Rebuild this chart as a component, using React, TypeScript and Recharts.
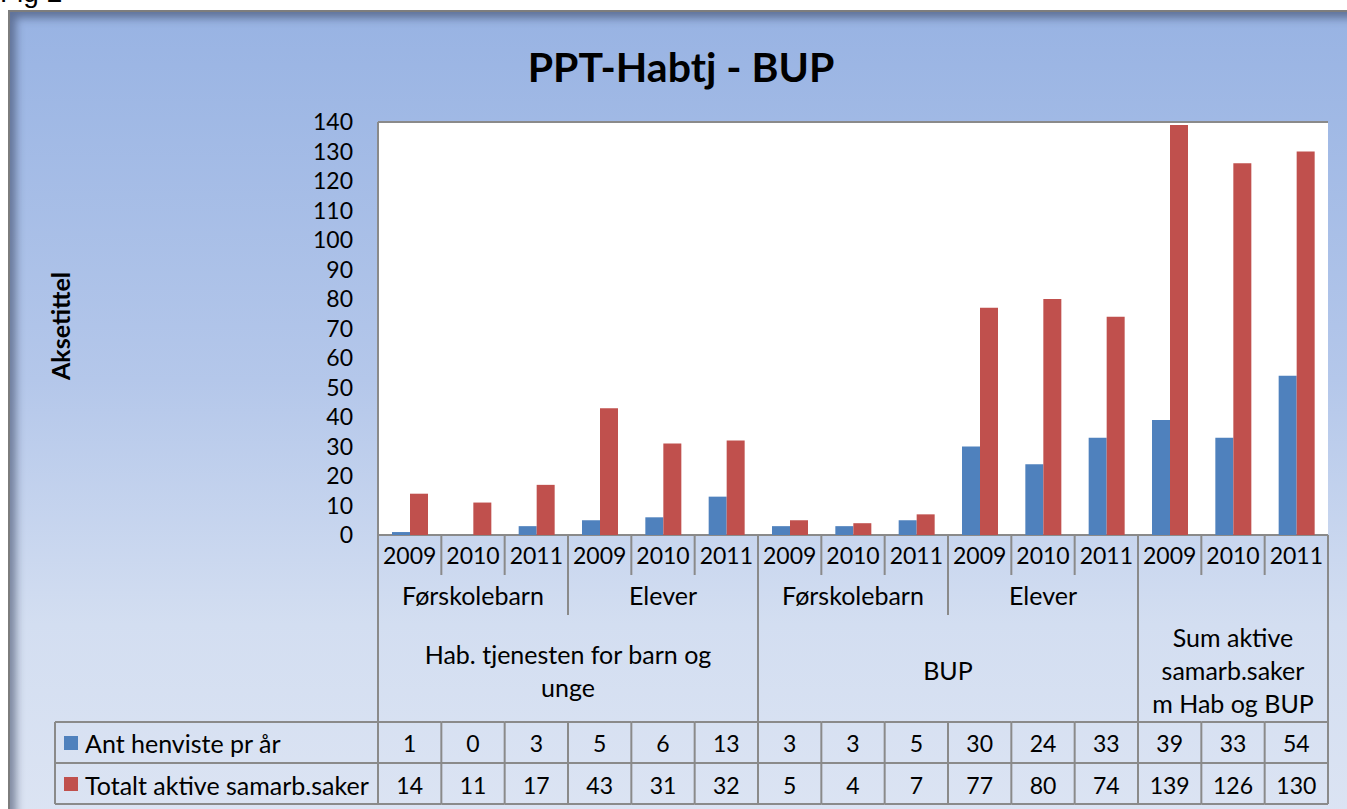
import React from "react";
import { BarChart, Bar, XAxis, YAxis, CartesianGrid } from "recharts";

const years = ["2009", "2010", "2011", "2009", "2010", "2011", "2009", "2010", "2011", "2009", "2010", "2011", "2009", "2010", "2011"];
const antHenviste = [1, 0, 3, 5, 6, 13, 3, 3, 5, 30, 24, 33, 39, 33, 54];
const totaltAktive = [14, 11, 17, 43, 31, 32, 5, 4, 7, 77, 80, 74, 139, 126, 130];
const midGroups = [
  { start: 0, span: 3, label: "Førskolebarn" },
  { start: 3, span: 3, label: "Elever" },
  { start: 6, span: 3, label: "Førskolebarn" },
  { start: 9, span: 3, label: "Elever" },
  { start: 12, span: 3, label: "" },
];
const topGroups = [
  { start: 0, span: 6, lines: ["Hab. tjenesten for barn og", "unge"] },
  { start: 6, span: 6, lines: ["BUP"] },
  { start: 12, span: 3, lines: ["Sum aktive", "samarb.saker", "m Hab og BUP"] },
];
const seriesNames = ["Ant henviste pr år", "Totalt aktive samarb.saker"];
const yTicks = [0, 10, 20, 30, 40, 50, 60, 70, 80, 90, 100, 110, 120, 130, 140];

const data = years.map((y, i) => ({ key: `c${i}`, year: y, ant: antHenviste[i], tot: totaltAktive[i] }));

const BLUE = "#4F81BD";
const RED = "#C0504D";
const LINE = "#8a8a8a";
const FONT = "Lato, 'Open Sans', sans-serif";
const LEGEND_LEFT = 55;

const TableTick = (props: any) => {
  const { x, y, payload } = props;
  const i: number = payload.index ?? props.index;
  const colW = payload.offset ? payload.offset * 2 : 950 / 15;
  const left = x - colW / 2;
  const right = x + colW / 2;
  const els: React.ReactNode[] = [];
  const isMid = midGroups.some((g) => g.start === i);
  const isTop = topGroups.some((g) => g.start === i);
  const ln = (k: string, x1: number, y1: number, x2: number, y2: number) => (
    <line key={k} x1={x1} y1={y1} x2={x2} y2={y2} stroke={LINE} strokeWidth={2} />
  );
  let bottom = y + 40;
  if (isMid) bottom = y + 80;
  if (isTop) bottom = y + 269;
  els.push(ln("vl", left, y, left, bottom));
  if (!isTop) els.push(ln("vld", left, y + 187, left, y + 269));
  if (i === years.length - 1) els.push(ln("vr", right, y, right, y + 269));
  [187, 228, 269].forEach((d) => els.push(ln("h" + d, left, y + d, right, y + d)));
  els.push(
    <text key="yr" x={x} y={y + 20} textAnchor="middle" dominantBaseline="central" fontSize={23} fill="#000" fontFamily={FONT}>
      {years[i]}
    </text>
  );
  els.push(
    <text key="v1" x={x} y={y + 208} textAnchor="middle" dominantBaseline="central" fontSize={23} fill="#000" fontFamily={FONT}>
      {antHenviste[i]}
    </text>
  );
  els.push(
    <text key="v2" x={x} y={y + 250} textAnchor="middle" dominantBaseline="central" fontSize={23} fill="#000" fontFamily={FONT}>
      {totaltAktive[i]}
    </text>
  );
  const mg = midGroups.find((g) => g.start === i);
  if (mg && mg.label) {
    els.push(
      <text key="mg" x={left + (mg.span * colW) / 2} y={y + 60} textAnchor="middle" dominantBaseline="central" fontSize={25} fill="#000" fontFamily={FONT}>
        {mg.label}
      </text>
    );
  }
  const tg = topGroups.find((g) => g.start === i);
  if (tg) {
    const n = tg.lines.length;
    tg.lines.forEach((t, k) => {
      els.push(
        <text key={"tg" + k} x={left + (tg.span * colW) / 2} y={y + 135 + (k - (n - 1) / 2) * 33} textAnchor="middle" dominantBaseline="central" fontSize={25} fill="#000" fontFamily={FONT}>
          {t}
        </text>
      );
    });
  }
  if (i === 0) {
    [187, 228, 269].forEach((d) => els.push(ln("lh" + d, LEGEND_LEFT, y + d, left, y + d)));
    els.push(ln("lv", LEGEND_LEFT, y + 187, LEGEND_LEFT, y + 269));
    [BLUE, RED].forEach((c, k) => {
      els.push(<rect key={"lk" + k} x={LEGEND_LEFT + 9} y={y + 201 + k * 41} width={14} height={14} fill={c} />);
      els.push(
        <text key={"lt" + k} x={LEGEND_LEFT + 30} y={y + 208 + k * 42} dominantBaseline="central" fontSize={25} fill="#000" fontFamily={FONT}>
          {seriesNames[k]}
        </text>
      );
    });
  }
  return <g>{els}</g>;
};

export default function App() {
  return (
    <div style={{ position: "absolute", left: 0, top: 0, width: 1347, height: 809, overflow: "hidden", background: "#fff" }}>
      <div style={{ position: "absolute", left: 0, top: -21, fontFamily: "Arial, 'Liberation Sans', sans-serif", fontSize: 28, lineHeight: "28px", color: "#000" }}>
        Fig 2
      </div>
      <div
        style={{
          position: "absolute",
          left: 8,
          top: 10,
          width: 1360,
          height: 820,
          border: "2px solid #7d7d7d",
          boxSizing: "border-box",
          background: "linear-gradient(to bottom, #98B3E3 0%, #B4C7EA 45%, #D3DEF1 75%, #DCE4F3 100%)",
          boxShadow: "inset 6px 6px 8px rgba(50,60,90,0.55)",
        }}
      />
      <div style={{ position: "absolute", left: 0, top: 0 }}>
        <BarChart
          width={1347}
          height={809}
          data={data}
          margin={{ top: 122, right: 19, bottom: 4, left: 318 }}
          barCategoryGap={14}
          barGap={0}
        >
          <CartesianGrid horizontal={true} vertical={false} stroke={LINE} strokeWidth={2} fill="#ffffff" fillOpacity={1} />
          <XAxis dataKey="key" type="category" height={270} tickSize={0} tickMargin={0} axisLine={false} tickLine={false} tick={<TableTick />} interval={0} />
          <YAxis
            yAxisId="l"
            width={60}
            domain={[0, 140]}
            ticks={yTicks}
            tickSize={0}
            tickMargin={25}
            axisLine={{ stroke: LINE, strokeWidth: 2 }}
            tickLine={false}
            tick={{ fontSize: 23, fill: "#000", fontFamily: FONT }}
            interval={0}
          />
          <YAxis yAxisId="r" orientation="right" width={0} domain={[0, 140]} tick={false} tickLine={false} axisLine={{ stroke: LINE, strokeWidth: 2 }} />
          <Bar yAxisId="l" dataKey="ant" name={seriesNames[0]} fill={BLUE} isAnimationActive={false} />
          <Bar yAxisId="l" dataKey="tot" name={seriesNames[1]} fill={RED} isAnimationActive={false} />
        </BarChart>
      </div>
      <div style={{ position: "absolute", left: 0, width: 1362, top: 42, textAlign: "center", fontFamily: FONT, fontWeight: 700, fontSize: 41, color: "#000", lineHeight: "50px" }}>
        PPT-Habtj - BUP
      </div>
      <div
        style={{
          position: "absolute",
          left: 60,
          top: 326,
          transform: "translate(-50%, -50%) rotate(-90deg)",
          fontFamily: FONT,
          fontWeight: 700,
          fontSize: 25,
          color: "#000",
          whiteSpace: "nowrap",
        }}
      >
        Aksetittel
      </div>
    </div>
  );
}
